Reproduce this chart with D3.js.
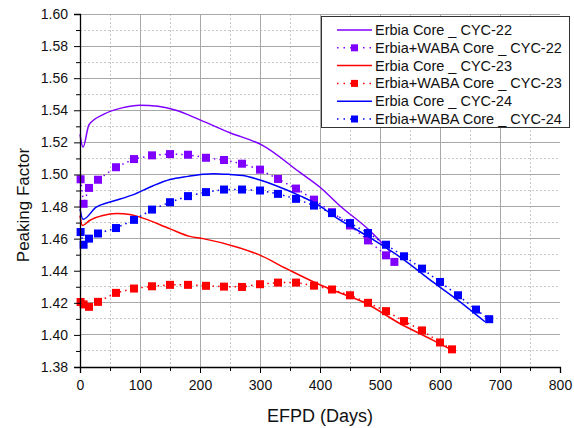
<!DOCTYPE html>
<html lang="en">
<head>
  <meta charset="UTF-8">
  <title>Peaking Factor vs EFPD</title>
  <script src="https://d3js.org/d3.v7.min.js"></script>
  <style>
    body {
      margin: 0;
      padding: 0;
      background: #fff;
      font-family: "Liberation Sans", Arial, sans-serif;
    }
    .tick-label {
      font-size: 14px;
      fill: #111;
    }
    .axis-title {
      font-size: 18px;
      fill: #111;
    }
    .legend-text {
      font-size: 14.5px;
      fill: #111;
    }
  </style>
</head>
<body>
  <div id="chart"></div>
  <script>
    // Erbia Core _ CYC-22 (solid line)
    const erbia22Days = [0, 5, 15, 40, 70, 100, 130, 160, 200, 250, 305, 366, 400, 433, 480, 518];
    const erbia22PF = [1.525, 1.517, 1.531, 1.5376, 1.5415, 1.5432, 1.5425, 1.5400, 1.5340, 1.5260, 1.5180, 1.5014, 1.4920, 1.4805, 1.4660, 1.4515];

    // Erbia+WABA Core _ CYC-22 (squares)
    const waba22Days = [1, 6, 15, 30, 60, 90, 120, 150, 180, 210, 240, 270, 300, 330, 360, 390, 420, 450, 480, 510, 524];
    const waba22PF = [1.4970, 1.4817, 1.4916, 1.4967, 1.5045, 1.5096, 1.5119, 1.5127, 1.5123, 1.5104, 1.5090, 1.5067, 1.5030, 1.4972, 1.4912, 1.4843, 1.4765, 1.4682, 1.4589, 1.4496, 1.4455];

    // Erbia Core _ CYC-23 (solid line)
    const erbia23Days = [0, 4, 16, 38, 61, 83, 100, 150, 183, 205, 261, 298, 344, 399, 422, 477, 533, 588, 615];
    const erbia23PF = [1.4744, 1.4682, 1.4713, 1.4744, 1.4756, 1.4750, 1.4734, 1.4661, 1.4614, 1.4600, 1.4548, 1.4500, 1.4413, 1.4314, 1.4278, 1.4196, 1.4071, 1.3968, 1.3915];

    // Erbia+WABA Core _ CYC-23 (squares)
    const waba23Days = [1, 6, 15, 30, 60, 90, 120, 150, 180, 210, 240, 270, 300, 330, 360, 390, 420, 450, 480, 510, 540, 570, 600, 620];
    const waba23PF = [1.4205, 1.4190, 1.4175, 1.4206, 1.4262, 1.4289, 1.4303, 1.4312, 1.4312, 1.4306, 1.4301, 1.4299, 1.4316, 1.4326, 1.4326, 1.4307, 1.4283, 1.4247, 1.4200, 1.4148, 1.4086, 1.4028, 1.3953, 1.3910];

    // Erbia Core _ CYC-24 (solid line)
    const erbia24Days = [0, 5, 27, 50, 88, 122, 150, 180, 205, 222, 250, 272, 300, 327, 366, 399, 422, 477, 533, 588, 644, 675];
    const erbia24PF = [1.4786, 1.4720, 1.4796, 1.4828, 1.4873, 1.4930, 1.4968, 1.4988, 1.5001, 1.5005, 1.5000, 1.4993, 1.4965, 1.4930, 1.4868, 1.4806, 1.4744, 1.4620, 1.4486, 1.4330, 1.4175, 1.4082];

    // Erbia+WABA Core _ CYC-24 (squares)
    const waba24Days = [1, 6, 15, 30, 60, 90, 120, 150, 180, 210, 240, 270, 300, 330, 360, 390, 420, 450, 480, 510, 540, 570, 600, 630, 660, 682];
    const waba24PF = [1.4641, 1.4562, 1.4600, 1.4632, 1.4666, 1.4717, 1.4781, 1.4827, 1.4865, 1.4890, 1.4906, 1.4906, 1.4900, 1.4879, 1.4848, 1.4806, 1.4759, 1.4697, 1.4635, 1.4562, 1.4490, 1.4413, 1.4330, 1.4247, 1.4158, 1.4098];

    const xTicks = [0, 100, 200, 300, 400, 500, 600, 700, 800];
    const yTicks = [1.38, 1.40, 1.42, 1.44, 1.46, 1.48, 1.50, 1.52, 1.54, 1.56, 1.58, 1.60];

    const width = 574, height = 428;
    const plot = { left: 80, right: 560, top: 14, bottom: 367 };

    const series = [
      { name: "Erbia Core _ CYC-22", type: "line", color: "#8000FF", days: erbia22Days, pf: erbia22PF },
      { name: "Erbia+WABA Core _ CYC-22", type: "square", color: "#8000FF", days: waba22Days, pf: waba22PF },
      { name: "Erbia Core _ CYC-23", type: "line", color: "#FF0000", days: erbia23Days, pf: erbia23PF },
      { name: "Erbia+WABA Core _ CYC-23", type: "square", color: "#FF0000", days: waba23Days, pf: waba23PF },
      { name: "Erbia Core _ CYC-24", type: "line", color: "#0000FF", days: erbia24Days, pf: erbia24PF },
      { name: "Erbia+WABA Core _ CYC-24", type: "square", color: "#0000FF", days: waba24Days, pf: waba24PF }
    ];

    const svg = d3.select("#chart")
      .append("svg")
      .attr("width", width)
      .attr("height", height);

    const x = d3.scaleLinear().domain([0, 800]).range([plot.left, plot.right]);
    const y = d3.scaleLinear().domain([1.38, 1.60]).range([plot.bottom, plot.top]);

    // grid: minor dotted, major solid
    const grid = svg.append("g").attr("shape-rendering", "crispEdges");
    const xMinor = d3.range(50, 800, 100);
    const yMinor = d3.range(1.39, 1.60, 0.02);

    grid.selectAll(".vminor").data(xMinor).join("line")
      .attr("x1", d => x(d)).attr("x2", d => x(d))
      .attr("y1", plot.top).attr("y2", plot.bottom)
      .attr("stroke", "#c8c8c8").attr("stroke-dasharray", "2,2");
    grid.selectAll(".hminor").data(yMinor).join("line")
      .attr("x1", plot.left).attr("x2", plot.right)
      .attr("y1", d => y(d)).attr("y2", d => y(d))
      .attr("stroke", "#c8c8c8").attr("stroke-dasharray", "2,2");
    grid.selectAll(".vmajor").data(xTicks.slice(1, -1)).join("line")
      .attr("x1", d => x(d)).attr("x2", d => x(d))
      .attr("y1", plot.top).attr("y2", plot.bottom)
      .attr("stroke", "#a8a8a8");
    grid.selectAll(".hmajor").data(yTicks.slice(1)).join("line")
      .attr("x1", plot.left).attr("x2", plot.right)
      .attr("y1", d => y(d)).attr("y2", d => y(d))
      .attr("stroke", "#a8a8a8");

    // data
    const lineGen = d3.line()
      .x(d => x(d[0]))
      .y(d => y(d[1]))
      .curve(d3.curveMonotoneX);

    const dotLine = d3.line()
      .x(d => x(d[0]))
      .y(d => y(d[1]));

    const sq = 8;
    series.forEach(s => {
      const pts = s.days.map((d, i) => [d, s.pf[i]]);
      if (s.type === "line") {
        svg.append("path")
          .datum(pts)
          .attr("d", lineGen)
          .attr("fill", "none")
          .attr("stroke", s.color)
          .attr("stroke-width", 1.5);
      } else {
        svg.append("path")
          .datum(pts)
          .attr("d", dotLine)
          .attr("fill", "none")
          .attr("stroke", s.color)
          .attr("stroke-width", 1.5)
          .attr("stroke-dasharray", "1.5,4");
        svg.append("g").selectAll("rect")
          .data(pts)
          .join("rect")
          .attr("x", d => x(d[0]) - sq / 2)
          .attr("y", d => y(d[1]) - sq / 2)
          .attr("width", sq)
          .attr("height", sq)
          .attr("fill", s.color);
      }
    });

    // axes
    const yAxis = svg.append("g")
      .attr("transform", `translate(${plot.left},0)`)
      .call(d3.axisLeft(y).tickValues(yTicks).tickFormat(d3.format(".2f")).tickSize(6).tickPadding(6));
    svg.append("g")
      .attr("transform", `translate(${plot.left},0)`)
      .call(d3.axisLeft(y).tickValues(yMinor).tickFormat("").tickSize(4))
      .call(g => g.select(".domain").remove());

    const xAxis = svg.append("g")
      .attr("transform", `translate(0,${plot.bottom})`)
      .call(d3.axisBottom(x).tickValues(xTicks).tickSize(6).tickPadding(7));
    svg.append("g")
      .attr("transform", `translate(0,${plot.bottom})`)
      .call(d3.axisBottom(x).tickValues(xMinor).tickFormat("").tickSize(4))
      .call(g => g.select(".domain").remove());

    svg.selectAll(".domain").attr("stroke", "#000").attr("stroke-width", 1.3);
    svg.selectAll(".tick line").attr("stroke", "#000");
    [yAxis, xAxis].forEach(a => a.selectAll(".tick text")
      .attr("class", "tick-label")
      .attr("font-family", null)
      .attr("font-size", null)
      .attr("fill", null));

    svg.append("text")
      .attr("class", "axis-title")
      .attr("x", (plot.left + plot.right) / 2)
      .attr("y", 422)
      .attr("text-anchor", "middle")
      .text("EFPD (Days)");

    svg.append("text")
      .attr("class", "axis-title")
      .attr("transform", `translate(29,205) rotate(-90)`)
      .attr("text-anchor", "middle")
      .style("font-size", "17px")
      .text("Peaking Factor");

    // legend
    const legend = svg.append("g");
    legend.append("rect")
      .attr("x", 321.5).attr("y", 16.5)
      .attr("width", 248).attr("height", 111)
      .attr("fill", "#fff")
      .attr("stroke", "#333");

    const rowH = 17.8;
    series.forEach((s, i) => {
      const cy = 30 + i * rowH;
      const row = legend.append("g");
      if (s.type === "line") {
        row.append("line")
          .attr("x1", 337).attr("x2", 372)
          .attr("y1", cy).attr("y2", cy)
          .attr("stroke", s.color).attr("stroke-width", 1.5);
      } else {
        row.append("line")
          .attr("x1", 337).attr("x2", 372)
          .attr("y1", cy).attr("y2", cy)
          .attr("stroke", s.color).attr("stroke-width", 1.5)
          .attr("stroke-dasharray", "1.5,5");
        row.append("rect")
          .attr("x", 354.5 - 3.5).attr("y", cy - 3.5)
          .attr("width", 7).attr("height", 7)
          .attr("fill", s.color);
      }
      row.append("text")
        .attr("class", "legend-text")
        .attr("x", 375)
        .attr("y", cy + 5)
        .text(s.name);
    });
  </script>
</body>
</html>
